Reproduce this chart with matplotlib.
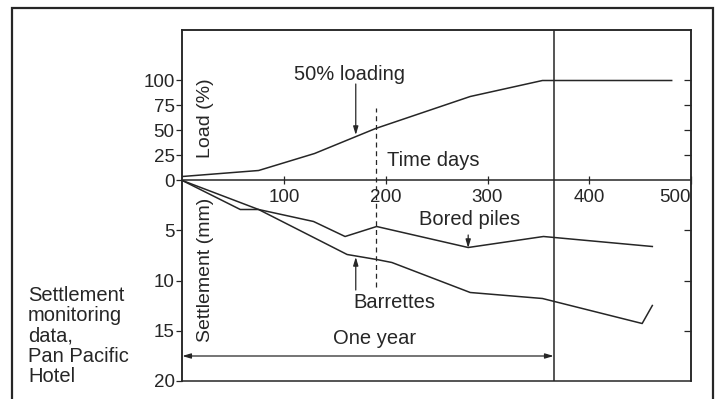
import matplotlib
matplotlib.use("Agg")
import matplotlib.pyplot as plt
from matplotlib.patches import Rectangle

plt.rcParams['font.family'] = ['Liberation Sans', 'DejaVu Sans']

### Data
load_days = [0, 75, 130, 190, 283, 354, 481]
load_pct = [4, 10, 27, 52, 84, 100, 100]

bored_days = [0, 57, 75, 129, 160, 191, 281, 355, 462]
bored_mm = [0, 2.9, 2.9, 4.1, 5.6, 4.6, 6.7, 5.6, 6.6]

barr_days = [0, 75, 162, 191, 206, 283, 354, 452, 462]
barr_mm = [0, 2.9, 7.4, 7.9, 8.2, 11.2, 11.8, 14.3, 12.5]

load_ticks = [100, 75, 50, 25, 0]
settle_ticks = [5, 10, 15, 20]
day_ticks = [100, 200, 300, 400, 500]

one_year = 365
half_load_day = 190
mm_scale = 10  # settlement drawn below the time axis, 10 units per mm

ink = '#262626'

fig = plt.figure(figsize=(7.18, 3.99), dpi=100)
ax = fig.add_axes([182.3/718, 1-381/399, (691-182.3)/718, (381-30)/399])
ax.set_xlim(0, 500)
ax.set_ylim(-200.5, 150.5)

# curves
ax.plot(load_days, load_pct, color=ink, lw=1.1)
ax.plot(bored_days, [-mm_scale*s for s in bored_mm], color=ink, lw=1.1)
ax.plot(barr_days, [-mm_scale*s for s in barr_mm], color=ink, lw=1.1)

# one year line and 50% loading dashed line
ax.axvline(one_year, color=ink, lw=1.1)
ax.vlines(half_load_day, -106.5, 72.5, colors=ink, lw=0.9, linestyles=(0, (4, 3)))

# axes: time axis on zero line
for s in ['left', 'right', 'top', 'bottom']:
    ax.spines[s].set_color(ink)
    ax.spines[s].set_linewidth(1.1)
ax.spines['bottom'].set_position(('data', 0))
ax.set_xticks(day_ticks)
ax.set_xticklabels([str(d) for d in day_ticks])
ax.tick_params(axis='x', direction='inout', length=6, width=0.9, pad=3,
               labelsize=13.5, colors=ink)
ax.get_xticklabels()[-1].set_horizontalalignment('right')
ax.get_xticklabels()[-1].set_x(500)

yt = load_ticks + [-mm_scale*s for s in settle_ticks]
ax.set_yticks(yt)
ax.set_yticklabels([str(v) for v in load_ticks] + [str(s) for s in settle_ticks])
ax.tick_params(axis='y', direction='out', length=4, width=0.9, pad=1.5,
               labelsize=13.5, colors=ink)

# inward ticks on right side + box bottom
ax2 = ax.twinx()
ax2.set_ylim(ax.get_ylim())
ax2.set_yticks([100, 75, 50, 25] + [-mm_scale*s for s in [5, 10, 15]])
ax2.tick_params(axis='y', direction='in', length=5, width=0.9, labelright=False, colors=ink)
for s in ['left', 'right', 'top', 'bottom']:
    ax2.spines[s].set_color(ink)
    ax2.spines[s].set_linewidth(1.1)

# axis titles inside the frame
ax.text(22.6, 62.5, 'Load (%)', rotation=90, ha='center', va='center', fontsize=14, color=ink)
ax.text(22.6, -89.5, 'Settlement (mm)', rotation=90, ha='center', va='center', fontsize=14, color=ink)
ax.text(247, 19.5, 'Time days', ha='center', va='center', fontsize=14.5, color=ink)

# annotations
arr = dict(arrowstyle='-|>,head_length=0.5,head_width=0.15', color=ink, lw=0.9,
           shrinkA=0, shrinkB=0)
ax.text(164, 106.5, '50% loading', ha='center', va='center', fontsize=14.5, color=ink)
ax.annotate('', xy=(170.5, 45.5), xytext=(170.5, 96.5), arrowprops=arr)
ax.text(282, -39.5, 'Bored piles', ha='center', va='center', fontsize=14.5, color=ink)
ax.annotate('', xy=(281, -67.5), xytext=(281, -54.5), arrowprops=arr)
ax.text(208, -121.5, 'Barrettes', ha='center', va='center', fontsize=14.5, color=ink)
ax.annotate('', xy=(170.5, -76.5), xytext=(170.5, -109.5), arrowprops=arr)

ax.text(188.5, -157.5, 'One year', ha='center', va='center', fontsize=14.5, color=ink)
ax.annotate('', xy=(0, -175.5), xytext=(one_year, -175.5),
            arrowprops=dict(arrowstyle='<|-|>,head_length=0.5,head_width=0.15',
                            color=ink, lw=0.9, shrinkA=0, shrinkB=0))

# caption on the left
fig.text(28/718, 1-286/399, 'Settlement\nmonitoring\ndata,\nPan Pacific\nHotel',
         ha='left', va='top', fontsize=14.5, color=ink, linespacing=1.08)

# outer border
fig.patches.append(Rectangle((12/718, -0.05), 701/718, 1-8/399+0.05,
                             transform=fig.transFigure, fill=False,
                             edgecolor=ink, lw=1.6))

fig.savefig('out.png', dpi=100)
